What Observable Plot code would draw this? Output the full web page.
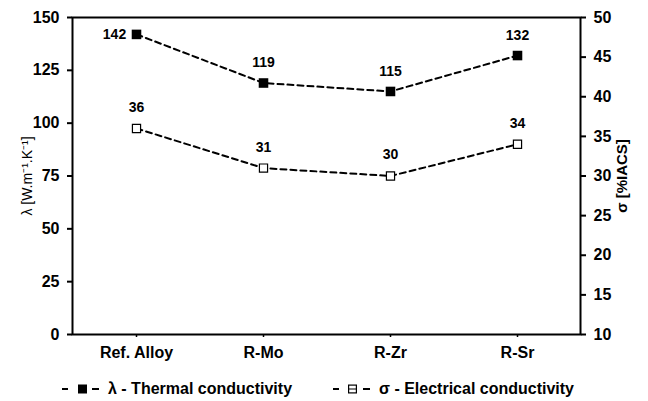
<!DOCTYPE html>
<html>
<head>
<meta charset="utf-8">
<script src="https://cdn.jsdelivr.net/npm/d3@7"></script>
<script src="https://cdn.jsdelivr.net/npm/@observablehq/plot@0.6"></script>
<style>
  html, body { margin: 0; padding: 0; background: #fff; }
  body { width: 648px; height: 401px; overflow: hidden; font-family: "Liberation Sans", Arial, sans-serif; }
  #chart svg { display: block; }
  g[aria-label="y-axis label"] text { font-weight: normal; font-size: 14px; }
  #legend { position: relative; height: 33px; font-weight: bold; font-size: 16px; color: #000; }
  #legend .item { display: flex; align-items: center; position: absolute; top: 12px; }
  #legend svg { margin-right: 8px; }
</style>
</head>
<body>
<div id="chart"></div>
<div id="legend"></div>
<script>
const categories = ["Ref. Alloy", "R-Mo", "R-Zr", "R-Sr"];
const thermal = [142, 119, 115, 132];        // λ [W.m-1.K-1], left axis
const electrical = [36, 31, 30, 34];         // σ [%IACS], right axis
const leftTicks = [0, 25, 50, 75, 100, 125, 150];
const rightTicks = [10, 15, 20, 25, 30, 35, 40, 45, 50];
const leftDomain = [0, 150];
const rightDomain = [10, 50];

// map right-axis values onto the left scale
const toLeft = v => leftDomain[0] + (v - rightDomain[0]) / (rightDomain[1] - rightDomain[0]) * (leftDomain[1] - leftDomain[0]);

const tData = categories.map((c, i) => ({cat: c, v: thermal[i], y: thermal[i]}));
const eData = categories.map((c, i) => ({cat: c, v: electrical[i], y: toLeft(electrical[i])}));

const chart = Plot.plot({
  width: 648,
  height: 368,
  marginLeft: 72,
  marginRight: 68,
  marginTop: 17,
  marginBottom: 34,
  style: {fontFamily: "'Liberation Sans', Arial, sans-serif", fontSize: "16px", color: "#000", background: "#fff"},
  x: {type: "point", domain: categories, padding: 0.5},
  y: {domain: leftDomain},
  marks: [
    Plot.frame({stroke: "#000", strokeWidth: 2}),
    Plot.axisX({tickSize: 3, tickPadding: 9, fontWeight: "bold", fontSize: 16, label: null, strokeWidth: 1.5}),
    Plot.axisY({anchor: "left", ticks: leftTicks, tickSize: 5, tickPadding: 8, fontWeight: "bold", fontSize: 16,
      strokeWidth: 2, label: "λ [W.m⁻¹.K⁻¹]", labelAnchor: "center", labelArrow: "none", labelOffset: 50}),
    Plot.axisY({anchor: "right", ticks: rightTicks.map(toLeft), tickFormat: (d, i) => rightTicks[i],
      tickSize: 5, tickPadding: 8, fontWeight: "bold", fontSize: 16, strokeWidth: 2,
      label: "σ [%IACS]", labelAnchor: "center", labelArrow: "none", labelOffset: 46}),
    Plot.line(tData, {x: "cat", y: "y", stroke: "#000", strokeWidth: 2, strokeDasharray: "6,4"}),
    Plot.line(eData, {x: "cat", y: "y", stroke: "#000", strokeWidth: 2, strokeDasharray: "6,4"}),
    Plot.dot(tData, {x: "cat", y: "y", symbol: "square", r: 5.4, fill: "#000", stroke: "none"}),
    Plot.dot(eData, {x: "cat", y: "y", symbol: "square", r: 4.6, fill: "#fff", stroke: "#000", strokeWidth: 1.2}),
    Plot.text(tData.slice(0, 1), {x: "cat", y: "y", text: d => String(d.v), dx: -22, fontWeight: "bold", fontSize: 14}),
    Plot.text(tData.slice(1), {x: "cat", y: "y", text: d => String(d.v), dy: -20, fontWeight: "bold", fontSize: 14}),
    Plot.text(eData, {x: "cat", y: "y", text: d => String(d.v), dy: -21, fontWeight: "bold", fontSize: 14})
  ]
});
document.getElementById("chart").appendChild(chart);
// right axis title is bold in the reference
const yLabels = chart.querySelectorAll('g[aria-label="y-axis label"] text');
if (yLabels.length > 1) {
  yLabels[1].style.fontWeight = "bold";
  yLabels[1].style.fontSize = "15px";
}

// legend
const legendItems = [
  {label: "λ - Thermal conductivity", filled: true, left: 62},
  {label: "σ - Electrical conductivity", filled: false, left: 333}
];
const legend = document.getElementById("legend");
for (const it of legendItems) {
  const div = document.createElement("div");
  div.className = "item";
  div.style.left = it.left + "px";
  const sq = it.filled
    ? `<rect x="16" y="2.5" width="9" height="9" fill="#000"/>`
    : `<rect x="15.6" y="3.1" width="7.8" height="7.8" fill="#fff" stroke="#000" stroke-width="1.2"/><line x1="15.6" y1="7" x2="23.4" y2="7" stroke="#000" stroke-width="1"/>`;
  div.innerHTML = `<svg width="38" height="14">` +
    `<line x1="0" y1="7" x2="6" y2="7" stroke="#000" stroke-width="2"/>` + sq +
    `<line x1="30" y1="7" x2="37" y2="7" stroke="#000" stroke-width="2"/></svg>` +
    `<span>${it.label}</span>`;
  legend.appendChild(div);
}
</script>
</body>
</html>
